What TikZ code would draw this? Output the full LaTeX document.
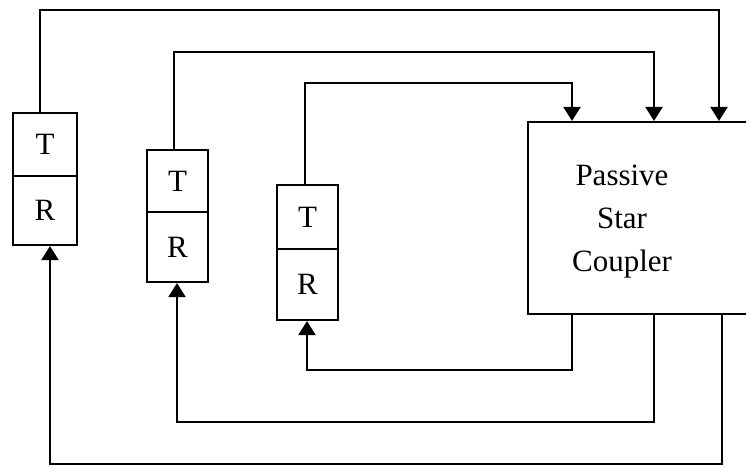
\documentclass[tikz,border=0pt]{standalone}
\usepackage{fontspec}
\setmainfont{Liberation Serif}
\usetikzlibrary{arrows.meta}
\begin{document}
\begin{tikzpicture}[x=1pt,y=-1pt,line width=2.1pt,
  box/.style={draw,line width=2.1pt,inner sep=0pt,minimum width=62pt,font=\fontsize{31}{34}\selectfont},
  link/.style={line width=2.1pt},
  arr/.style={-{Triangle[length=14pt,width=17pt]}},
  lbl/.style={font=\fontsize{31}{43}\selectfont,align=center,inner sep=0pt}]
\useasboundingbox (0,0) rectangle (746,467);
\clip (0,0) rectangle (746,467);
% left station
\node[box,minimum width=64pt,minimum height=63pt] (lT) at (45,144.5) {T};
\node[box,minimum width=64pt,minimum height=69pt] (lR) at (45,210.5) {R};
% middle station
\node[box,minimum width=61pt,minimum height=62pt] (mT) at (177.5,181) {T};
\node[box,minimum width=61pt,minimum height=70pt] (mR) at (177.5,247) {R};
% inner station
\node[box,minimum width=61pt,minimum height=64pt] (iT) at (307.5,217) {T};
\node[box,minimum width=61pt,minimum height=71pt] (iR) at (307.5,284.5) {R};
% coupler
\node[draw,line width=2.1pt,minimum width=232pt,minimum height=192pt,inner sep=0pt] (pc) at (644,218) {};
\node[lbl] (pct) at (622,222) {Passive\\Star\\Coupler};
% transmit links
\coordinate (o1) at (40,10);
\coordinate (o2) at (719,10);
\draw[link,arr] ([xshift=-5pt]lT.north) -- (o1) -- (o2) -- (pc.north -| o2);
\coordinate (m1) at (174,52);
\coordinate (m2) at (654,52);
\draw[link,arr] ([xshift=-3.5pt]mT.north) -- (m1) -- (m2) -- (pc.north -| m2);
\coordinate (n1) at (305,83);
\coordinate (n2) at (572,83);
\draw[link,arr] ([xshift=-2.5pt]iT.north) -- (n1) -- (n2) -- (pc.north -| n2);
% receive links
\coordinate (b1) at (572,370);
\coordinate (b2) at (307,370);
\draw[link,arr] (pc.south -| b1) -- (b1) -- (b2) -- (iR.south -| b2);
\coordinate (c1) at (654,422);
\coordinate (c2) at (177,422);
\draw[link,arr] (pc.south -| c1) -- (c1) -- (c2) -- (mR.south -| c2);
\coordinate (d1) at (722,464);
\coordinate (d2) at (50,464);
\draw[link,arr] (pc.south -| d1) -- (d1) -- (d2) -- (lR.south -| d2);
\end{tikzpicture}
\end{document}
